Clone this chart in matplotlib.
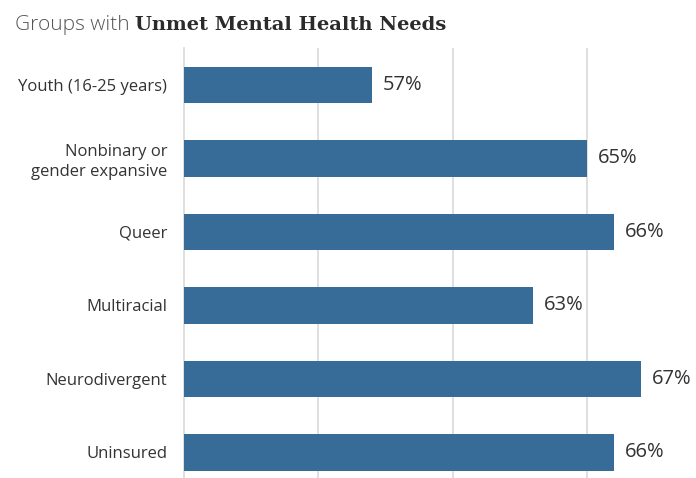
import matplotlib
matplotlib.use("Agg")
import matplotlib.pyplot as plt

categories = ["Youth (16-25 years)", "Nonbinary or\ngender expansive", "Queer",
              "Multiracial", "Neurodivergent", "Uninsured"]
values = [57, 65, 66, 63, 67, 66]
value_labels = ["57%", "65%", "66%", "63%", "67%", "66%"]
xticks = [55, 60, 65, 70]

W, H = 696, 478
fig = plt.figure(figsize=(W / 100, H / 100), dpi=100)
ax = fig.add_axes([184 / W, 0, (W - 184) / W, (478 - 48.25) / H])

bar_color = "#376c99"
ys = list(range(len(categories)))
ax.barh(ys, [v - 50 for v in values], left=50, height=0.49, color=bar_color, zorder=3)
ax.set_xticks(xticks)
ax.set_xlim(50, 50 + 512 / 26.875)
ax.set_ylim(5.347, -0.5)
ax.xaxis.grid(True, color="#d9d9d9", linewidth=1.2, zorder=0)
ax.tick_params(axis="x", length=0, labelbottom=False)
ax.tick_params(axis="y", length=0, pad=12)
ax.set_yticks(ys)
ax.set_yticklabels(categories, fontsize=12, color="#333333", family="Open Sans",
                   linespacing=1.3)
for s in ["top", "right", "bottom"]:
    ax.spines[s].set_visible(False)
ax.spines["left"].set_color("#d9d9d9")
ax.spines["left"].set_linewidth(1.2)

for y, v, lab in zip(ys, values, value_labels):
    ax.text(v + 0.4, y, lab, va="center", ha="left", fontsize=14.5, color="#333333",
            family="Open Sans")

t1 = fig.text(15 / W, 1 - 25 / H, "Groups with ", fontsize=15, color="#555555",
              family="Open Sans", fontweight="light", va="center", ha="left")
fig.canvas.draw()
bb = t1.get_window_extent()
fig.text(bb.x1 / W, 1 - 25 / H, "Unmet Mental Health Needs", fontsize=14,
         color="#2b2b2b", family="DejaVu Serif", fontweight="bold", va="center", ha="left")

fig.savefig("out.png", dpi=100)
